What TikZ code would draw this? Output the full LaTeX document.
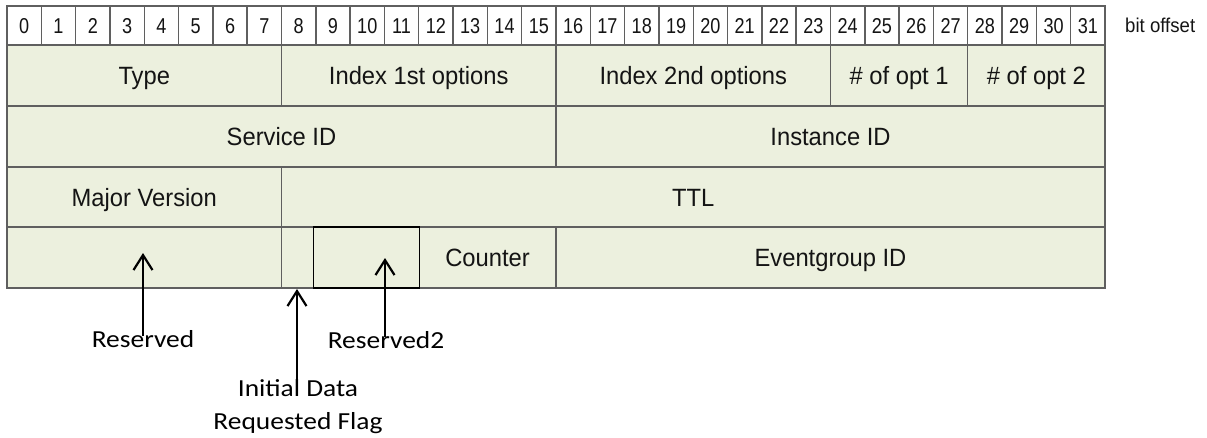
\documentclass[tikz,border=0pt]{standalone}
\usepackage{fontspec}
\setmainfont{Liberation Sans}
\newfontfamily\tabfont[FakeStretch=0.95]{Liberation Sans}
\newfontfamily\hdrfont[FakeStretch=0.84]{Liberation Sans}
\newfontfamily\offfont[FakeStretch=0.93]{Liberation Sans}
\newfontfamily\lblfont[FakeStretch=1.12]{Carlito}
\usetikzlibrary{arrows.meta}
\definecolor{cellfill}{RGB}{236,240,222}
\definecolor{gridline}{RGB}{95,95,95}
\definecolor{txt}{RGB}{20,20,20}
\begin{document}
\begin{tikzpicture}[x=1pt,y=-1pt,
  cellbox/.style={draw=gridline, line width=1.4pt, fill=cellfill, inner sep=0pt, outer sep=0pt,
    anchor=north west, text=txt, text height=18pt, text depth=0pt,
    font=\tabfont\fontsize{25}{30}\selectfont},
  hdrbox/.style={cellbox, fill=white, text height=15pt, text depth=0pt,
    font=\hdrfont\fontsize{21.5}{24}\selectfont},
  darkbox/.style={cellbox, draw=black, line width=1.7pt},
  lbl/.style={text=black, font=\lblfont\fontsize{24.5}{33}\selectfont, inner sep=0pt, align=center},
  arr/.style={line width=2.2pt, draw=black, -{Straight Barb[length=15pt,width=19pt]}}]
\useasboundingbox (0,0) rectangle (1207,437);
% header
\foreach \i in {0,...,31}{
  \pgfmathsetmacro{\xa}{7+\i*34.3125}
  \node[hdrbox, minimum width=34.3125pt, minimum height=39pt] (h\i) at (\xa,6) {\i};
}
\node[anchor=west, text=txt, font=\offfont\fontsize{20}{24}\selectfont, inner sep=0pt] (off) at (1125,25) {bit offset};
% row 1
\node[cellbox, minimum width=274.5pt, minimum height=61pt] (type) at (7,45) {Type};
\node[cellbox, minimum width=274.5pt, minimum height=61pt] (idx1) at (281.5,45) {Index 1st options};
\node[cellbox, minimum width=274.5pt, minimum height=61pt] (idx2) at (556,45) {Index 2nd options};
\node[cellbox, minimum width=137.25pt, minimum height=61pt] (nopt1) at (830.5,45) {\# of opt 1};
\node[cellbox, minimum width=137.25pt, minimum height=61pt] (nopt2) at (967.75,45) {\# of opt 2};
% row 2
\node[cellbox, minimum width=549pt, minimum height=61pt] (sid) at (7,106) {Service ID};
\node[cellbox, minimum width=549pt, minimum height=61pt] (iid) at (556,106) {Instance ID};
% row 3
\node[cellbox, minimum width=274.5pt, minimum height=60pt] (major) at (7,167) {Major Version};
\node[cellbox, minimum width=823.5pt, minimum height=60pt] (ttl) at (281.5,167) {TTL};
% row 4
\node[cellbox, minimum width=274.5pt, minimum height=61pt] (res) at (7,227) {};
\node[cellbox, minimum width=32pt, minimum height=61pt] (flag) at (281.5,227) {};
\node[cellbox, minimum width=137pt, minimum height=61pt] (counter) at (419,227) {Counter};
\node[cellbox, minimum width=549pt, minimum height=61pt] (egid) at (556,227) {Eventgroup ID};
\node[darkbox, minimum width=106pt, minimum height=61pt] (res2) at (313.5,227) {};
% labels
\node[lbl, anchor=base] (lres) at (143,347) {Reserved};
\node[lbl, anchor=base] (lres2) at (386,348) {Reserved2};
\node[lbl] (lflag) at (298,407) {Initial Data\\Requested Flag};
% arrow ends
\coordinate (tipRes) at (143,253);
\coordinate (startRes) at (143,336);
\coordinate (tipFlag) at (297,289);
\coordinate (startFlag) at (297,387);
\coordinate (tipRes2) at (385,258);
\coordinate (startRes2) at (385,337);
\draw[arr] (startRes) -- (tipRes);
\draw[arr] (startFlag) -- (tipFlag);
\draw[arr] (startRes2) -- (tipRes2);
\end{tikzpicture}
\end{document}
